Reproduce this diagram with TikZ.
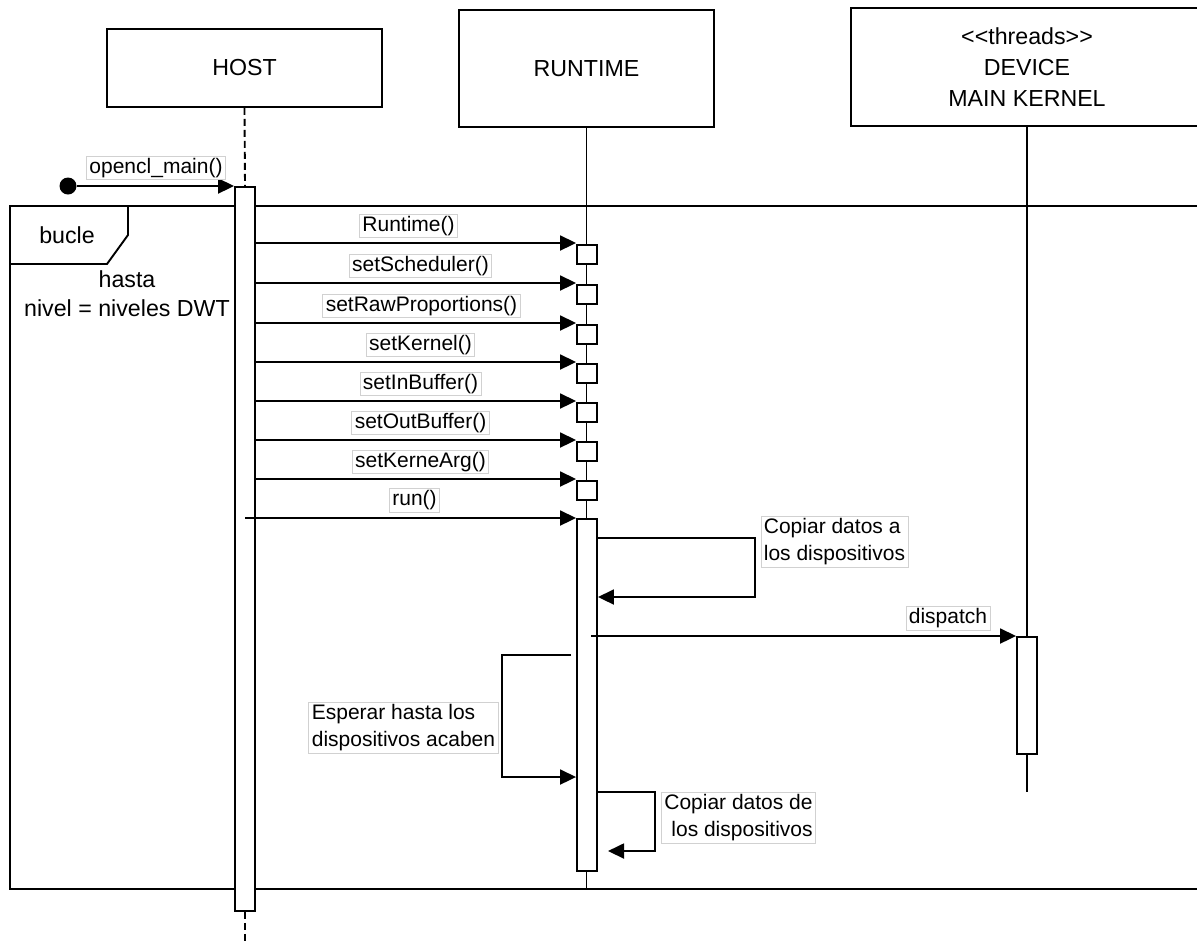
\documentclass[tikz,border=0pt]{standalone}
\usepackage{fontspec}
\setmainfont{Liberation Sans}
\usetikzlibrary{arrows.meta}
\begin{document}
\begin{tikzpicture}[x=0.5pt,y=-0.5pt,
  every node/.style={font=\fontsize{10.5}{13.5}\selectfont},
  big/.style={font=\fontsize{11.6}{14.5}\selectfont},
  ln/.style={line width=0.95pt},
  head/.style={draw, line width=0.95pt, fill=white, inner sep=0pt, align=center,
    font=\fontsize{11.6}{15.5}\selectfont},
  bar/.style={draw, line width=0.95pt, fill=white, minimum width=10pt, inner sep=0pt, anchor=north},
  exec/.style={bar, minimum height=9.5pt},
  msg/.style={line width=0.95pt, -{Triangle[length=8pt,width=7.5pt]}},
  lbl/.style={draw=black!18, line width=0.4pt, fill=white, inner xsep=1.5pt, inner ysep=1pt},
  plain/.style={inner sep=0pt},
]
\useasboundingbox (0,0) rectangle (1197,944);
\clip (0,0) rectangle (1197,944);

% loop frame with its tab
\draw[ln] (10,206) rectangle (1220,889);
\draw[ln] (10,206) -- (128,206) -- (128,235) -- (107,264) -- (10,264);
\node[plain, big] (loopname) at (67,235) {bucle};
\node[plain, big, align=center] (guard) at (127,294) {hasta\\nivel = niveles DWT};

% participants
\node[head, minimum width=137.5pt, minimum height=39pt] (host) at (244.5,68) {HOST};
\node[head, minimum width=127.5pt, minimum height=58.5pt] (rt) at (586.5,68.5) {RUNTIME};
\node[head, minimum width=176pt, minimum height=59pt] (dev) at (1027,67)
  {<\kern0pt<threads>\kern0pt>\\DEVICE\\MAIN KERNEL};

% lifeline ends
\coordinate (rtend) at (586.5,889);
\coordinate (devend) at (1027,792);
\coordinate (hostend) at (245,944);

% activation bars
\node[bar, minimum height=362pt] (hostbar) at (245,186) {};
\node[bar, minimum height=176pt] (rtbar) at (587,518) {};
\node[bar, minimum height=58.5pt] (devbar) at (1027,636) {};

% lifelines
\draw[ln, dash pattern=on 3.5pt off 2pt] (host.south) -- (hostbar.north);
\draw[ln, dash pattern=on 3.5pt off 2pt] (hostbar.south) -- (hostend);
\draw[ln] (rt.south) -- (rtend);
\draw[ln] (dev.south) -- (devend);

% redraw bars above the lifelines
\node[bar, minimum height=362pt] at (245,186) {};
\node[bar, minimum height=176pt] at (587,518) {};
\node[bar, minimum height=58.5pt] at (1027,636) {};

% entry call
\node[circle, fill, inner sep=0pt, minimum size=8.5pt] (start) at (68,186) {};
\draw[msg] (start) -- (hostbar.north west);
\node[lbl] (lmain) at (156,168) {opencl\_main()};

% configuration calls
\foreach \i/\yy/\t/\lx in {1/243/{Runtime()}/408.5, 2/283/{setScheduler()}/420.5,
    3/323/{setRawProportions()}/421.5, 4/362/{setKernel()}/420.5,
    5/401/{setInBuffer()}/420.5, 6/440/{setOutBuffer()}/420.5,
    7/479/{setKerneArg()}/420.5} {
  \node[exec] (rb\i) at (587,\yy+1) {};
  \draw[msg] (hostbar.east |- 0,\yy) -- (rb\i.west |- 0,\yy);
  \node[lbl] (lm\i) at (\lx,\yy-17) {\t};
}

% run
\draw[msg] (hostbar.center |- 0,518) -- (rtbar.north west);
\node[lbl] (lrun) at (414.5,500.5) {run()};

% copy to devices
\coordinate (c1) at (755,538);
\draw[msg] (rtbar.east |- c1) -- (c1) -- (755,597) -- (rtbar.east |- 0,597);
\node[lbl, align=left] (lcopy1) at (834.5,542) {Copiar datos a\\los dispositivos};

% dispatch
\coordinate (dsrc) at (591,636);
\draw[msg] (dsrc) -- (devbar.north west);
\node[lbl] (ldisp) at (948,618.5) {dispatch};

% wait for devices
\coordinate (wsrc) at (571,655);
\draw[msg] (wsrc) -- (502,655) |- (rtbar.west |- 0,777);
\node[lbl, align=left] (lwait) at (403.5,728) {Esperar hasta los\\dispositivos acaben};

% copy back from devices
\coordinate (c2end) at (608,851);
\draw[msg] (rtbar.east |- 0,792) -| (655,851) -- (c2end);
\node[lbl, align=right] (lcopy2) at (738.5,818) {Copiar datos de\\los dispositivos};
\end{tikzpicture}
\end{document}
